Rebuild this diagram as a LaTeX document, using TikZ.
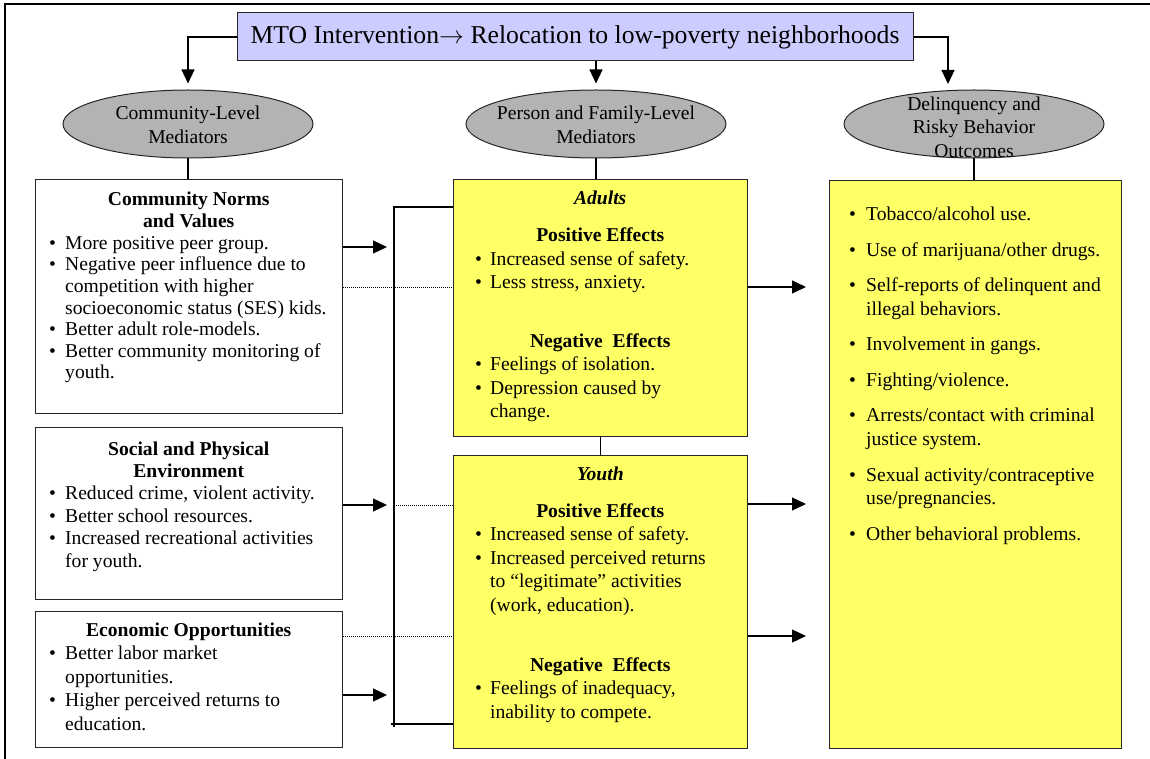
\documentclass[tikz,border=0pt]{standalone}
\usepackage{fontspec}
\setmainfont{Liberation Serif}
\usetikzlibrary{arrows.meta,shapes.geometric}
\definecolor{yelw}{HTML}{FFFF66}
\definecolor{ellg}{HTML}{B3B3B3}
\definecolor{lav}{HTML}{CCCCFF}
\newlength{\bw}
\setlength{\bw}{16pt}
\newcommand{\bitem}[1]{\par\hangindent=\bw\hangafter=1\noindent\makebox[\bw][l]{\textbullet}#1\par}
\begin{document}
\begin{tikzpicture}[x=1pt,y=-1pt,
  every node/.style={font=\fontsize{19.6}{23.5}\selectfont},
  wbox/.style={draw=black!85,line width=1pt,fill=white,inner sep=0pt,anchor=north west},
  ybox/.style={wbox,fill=yelw},
  ell/.style={ellipse,draw=black!85,line width=1pt,fill=ellg,inner sep=0pt,minimum height=68pt},
  conn/.style={line width=1.1pt},
  arr/.style={conn,-{Triangle[length=14pt,width=13pt]}},
  dot/.style={line width=0.7pt,dash pattern=on 1pt off 1pt},
  txt/.style={anchor=base west,inner sep=0pt}
]
\useasboundingbox (0,0) rectangle (1150,759);
% frame (cropped: top and left sides)
\draw[line width=2pt] (5,759) -- (5,4) -- (1150,4);

% top box
\node[draw=black!85,line width=1pt,fill=lav,minimum width=676pt,minimum height=48pt,inner sep=0pt,
      font=\fontsize{25.7}{30}\selectfont] (top) at (575,37)
  {MTO Intervention$\rightarrow$ Relocation to low-poverty neighborhoods};

% ellipses
\node[ell,minimum width=250pt] (e1) at (188,124) {};
\node[ell,minimum width=260pt] (e2) at (596,124) {};
\node[ell,minimum width=260pt] (e3) at (974,124) {};
\node[align=center,inner sep=0pt] (e1t) at (188,125) {Community-Level\\Mediators};
\node[align=center,inner sep=0pt] (e2t) at (596,125) {Person and Family-Level\\Mediators};
\node[align=center,inner sep=0pt] (e3t) at (974,127) {Delinquency and\\Risky Behavior\\Outcomes};

% boxes
\node[wbox,minimum width=307pt,minimum height=234pt] (b1) at (35,179) {};
\node[wbox,minimum width=307pt,minimum height=172pt] (b2) at (35,427) {};
\node[wbox,minimum width=307pt,minimum height=136pt] (b3) at (35,611) {};
\node[ybox,minimum width=294pt,minimum height=257pt] (ad) at (453,179) {};
\node[ybox,minimum width=294pt,minimum height=293pt] (yo) at (453,455) {};
\node[ybox,minimum width=292pt,minimum height=568pt] (rb) at (829,180) {};

% coordinates
\coordinate (c3) at (948,84);
\coordinate (a1) at (387,247);
\coordinate (a2) at (387,505);
\coordinate (a3) at (387,695);
\coordinate (d1) at (0,287);
\coordinate (d3) at (0,636);
\coordinate (bt) at (394,207);
\coordinate (bb) at (394,727);
\coordinate (bl) at (391,724);
\coordinate (r1) at (806,287);
\coordinate (r2) at (806,504);
\coordinate (r3) at (806,636);

% connectors from top
\draw[arr,shorten >=6pt] (top.west) -| (e1.north);
\draw[arr,shorten >=6pt] (top.south -| e2.north) -- (e2.north);
\draw[arr] (top.east) -| (c3);

% ellipse to boxes
\draw[conn] (e1.south) -- (b1.north -| e1.south);
\draw[conn] (e2.south) -- (ad.north -| e2.south);
\draw[conn] (e3.south) -- (rb.north -| e3.south);
\draw[conn] (ad.south) -- (yo.north);

% bracket
\draw[conn] (ad.west |- bt) -- (bt) -- (bb);
\draw[conn] (yo.west |- bl) -- (bl);

% left arrows
\draw[arr] (b1.east |- a1) -- (a1);
\draw[arr] (b2.east |- a2) -- (a2);
\draw[arr] (b3.east |- a3) -- (a3);
% dotted
\draw[dot] (b1.east |- d1) -- (ad.west |- d1);
\draw[dot] (bt |- a2) -- (yo.west |- a2);
\draw[dot] (b3.east |- d3) -- (yo.west |- d3);

% right arrows
\draw[arr] (ad.east |- r1) -- (r1);
\draw[arr] (yo.east |- r2) -- (r2);
\draw[arr] (yo.east |- r3) -- (r3);

% texts left boxes
\node[txt] (t1) at (49,206) {\parbox[t]{279pt}{\raggedright\fontsize{19.6}{21.6}\selectfont
  {\centering\bfseries Community Norms\\and Values\par}
  \bitem{More positive peer group.}
  \bitem{Negative peer influence due to\newline competition with higher\newline socioeconomic status (SES) kids.}
  \bitem{Better adult role-models.}
  \bitem{Better community monitoring of\newline youth.}}};
\node[txt] (t2) at (49,455) {\parbox[t]{279pt}{\raggedright\fontsize{19.6}{22.4}\selectfont
  {\centering\bfseries Social and Physical\\Environment\par}
  \bitem{Reduced crime, violent activity.}
  \bitem{Better school resources.}
  \bitem{Increased recreational activities\newline for youth.}}};
\node[txt] (t3) at (49,636) {\parbox[t]{279pt}{\raggedright
  {\centering\bfseries Economic Opportunities\par}
  \bitem{Better labor market\newline opportunities.}
  \bitem{Higher perceived returns to\newline education.}}};

% adults
\node[txt] (ta0) at (475,205) {\parbox[t]{250pt}{\centering\bfseries\itshape Adults}};
\node[txt] (ta1) at (475,242) {\parbox[t]{250pt}{\raggedright\setlength{\bw}{15pt}%
  {\centering\bfseries Positive Effects\par}
  \bitem{Increased sense of safety.}
  \bitem{Less stress, anxiety.}}};
\node[txt] (ta2) at (475,347) {\parbox[t]{250pt}{\raggedright\setlength{\bw}{15pt}%
  {\centering\bfseries Negative\ \ Effects\par}
  \bitem{Feelings of isolation.}
  \bitem{Depression caused by\newline change.}}};

% youth
\node[txt] (ty0) at (475,480) {\parbox[t]{250pt}{\centering\bfseries\itshape Youth}};
\node[txt] (ty1) at (475,517) {\parbox[t]{250pt}{\raggedright\setlength{\bw}{15pt}%
  {\centering\bfseries Positive Effects\par}
  \bitem{Increased sense of safety.}
  \bitem{Increased perceived returns\newline to “legitimate” activities\newline (work, education).}}};
\node[txt] (ty2) at (475,671) {\parbox[t]{250pt}{\raggedright\setlength{\bw}{15pt}%
  {\centering\bfseries Negative\ \ Effects\par}
  \bitem{Feelings of inadequacy,\newline inability to compete.}}};

% right box
\node[txt] (tr) at (849,221) {\parbox[t]{255pt}{\raggedright\setlength{\parskip}{12pt}\setlength{\bw}{17pt}%
  \bitem{Tobacco/alcohol use.}
  \bitem{Use of marijuana/other drugs.}
  \bitem{Self-reports of delinquent and\newline illegal behaviors.}
  \bitem{Involvement in gangs.}
  \bitem{Fighting/violence.}
  \bitem{Arrests/contact with criminal\newline justice system.}
  \bitem{Sexual activity/contraceptive\newline use/pregnancies.}
  \bitem{Other behavioral problems.}}};
\end{tikzpicture}
\end{document}
